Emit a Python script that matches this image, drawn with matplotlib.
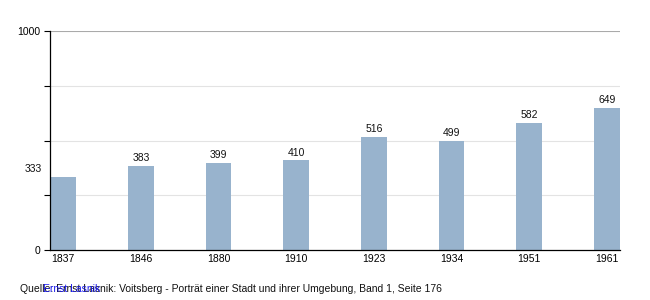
import matplotlib.pyplot as plt

plt.rcParams['font.family'] = ['Liberation Sans', 'DejaVu Sans']

# Einwohner Voitsberg
jahre = ['1837', '1846', '1880', '1910', '1923', '1934', '1951', '1961']
einwohner = [333, 383, 399, 410, 516, 499, 582, 649]

fig = plt.figure(figsize=(6.5, 3), dpi=100)
ax = fig.add_axes([50/650, 50/300, 570/650, 219/300])

x = list(range(len(jahre)))
ax.bar(x, einwohner, width=0.33, color='#98b3cd', zorder=2)

for i, v in enumerate(einwohner):
    xi = i - 0.38 if i == 0 else i
    ax.text(xi, v + 12, str(v), ha='center', va='bottom', fontsize=7.5, color='#111111')

ax.set_xlim(-0.17, 7.17)
ax.set_ylim(0, 1000)
ax.set_xticks(x)
ax.set_xticklabels(jahre, fontsize=7.5)
ax.set_yticks([0, 250, 500, 750, 1000])
ax.set_yticklabels(['0', '', '', '', '1000'], fontsize=7.5)
ax.tick_params(axis='x', length=0, pad=3)
ax.tick_params(axis='y', length=4, width=0.8, pad=3)

for g in [250, 500, 750]:
    ax.axhline(g, color='#e3e3e3', lw=0.8, zorder=1)
ax.axhline(1000, color='#aaaaaa', lw=0.8, zorder=1)

ax.spines['top'].set_visible(False)
ax.spines['right'].set_visible(False)
ax.spines['left'].set_linewidth(0.9)
ax.spines['bottom'].set_linewidth(0.9)

fig.text(20/650, 1 - 289/300, 'Quelle: Ernst Lasnik: Voitsberg - Porträt einer Stadt und ihrer Umgebung, Band 1, Seite 176',
         fontsize=7.5, va='center', color='#111111')
fig.text(43/650, 1 - 289/300, 'Ernst Lasnik', fontsize=7.5, va='center', color='#1a1aee')

fig.savefig('out.png', dpi=100)
